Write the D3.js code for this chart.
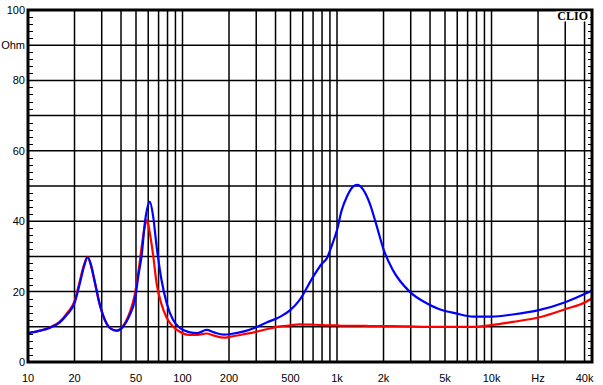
<!DOCTYPE html>
<html>
<head>
<meta charset="utf-8">
<script src="https://cdn.jsdelivr.net/npm/d3@7"></script>
<style>
  body { margin: 0; background: #fff; }
  svg { display: block; font-family: "Liberation Sans", Arial, sans-serif; }
</style>
</head>
<body>
<div id="chart"></div>
<script>
// frequency points (Hz), shared by both curves
const freq = [10, 12, 14, 16, 18, 20, 21.5, 23, 24.3, 25.5, 27, 29, 31.5, 34.5, 37.5, 41, 45.5, 49, 52, 54.5,
  57, 59, 61.5, 64.5, 68, 73, 79, 87, 96, 110, 125, 143, 160, 185, 205, 250, 300, 350, 430, 500,
  570, 700, 800, 860, 920, 1000, 1070, 1160, 1270, 1350, 1480, 1630, 1800, 2000, 2300, 2950, 3800, 4600, 5900, 7600,
  10000, 13700, 20500, 30000, 41000, 44700];

// impedance (Ohm), blue curve
const blueOhm = [8.2, 8.9, 9.8, 11.2, 13.6, 16.7, 21.8, 27, 29.7, 27.8, 23, 16.8, 11.9, 9.4, 8.9, 9.9, 13.3, 17.3, 25, 30.5,
  39.4, 43.5, 45.5, 41.5, 32.8, 23.5, 16.7, 11.9, 9.7, 8.5, 8.2, 9.1, 8.4, 7.8, 7.95, 8.7, 9.9, 11.2, 12.9, 14.8,
  17.5, 24.2, 28, 29.5, 32.8, 37.5, 43, 47, 49.8, 50.3, 48.9, 45, 38.9, 32, 26.1, 20, 16.7, 15, 13.8, 12.9,
  12.9, 13.5, 14.8, 17, 19.5, 20.3];

// impedance (Ohm), red curve
const redOhm = [8.2, 8.9, 9.9, 11.4, 14, 17.3, 22.5, 27.5, 29.9, 27.5, 22.8, 16.5, 11.8, 9.4, 8.9, 10.1, 14, 19, 26, 33,
  38.5, 40.3, 36.5, 30.5, 22.3, 16.5, 12.6, 10, 8.6, 7.7, 7.7, 8.1, 7.5, 6.9, 7.2, 7.9, 8.6, 9.3, 10.1, 10.4,
  10.7, 10.6, 10.5, 10.4, 10.4, 10.4, 10.3, 10.3, 10.3, 10.3, 10.3, 10.2, 10.2, 10.2, 10.2, 10.1, 10.0, 10.0, 10.0, 10.0,
  10.5, 11.4, 12.7, 15, 17.1, 18.1];

const freqGrid = [20, 30, 40, 50, 60, 70, 80, 90, 100, 200, 300, 400, 500, 600, 700, 800, 900, 1000,
  2000, 3000, 4000, 5000, 6000, 7000, 8000, 9000, 10000, 20000, 30000, 40000];
const freqLabels = [[10, "10"], [20, "20"], [50, "50"], [100, "100"], [200, "200"], [500, "500"],
  [1000, "1k"], [2000, "2k"], [5000, "5k"], [10000, "10k"], [20000, "Hz"], [40000, "40k"]];
const ohmLabels = [[0, "0"], [20, "20"], [40, "40"], [60, "60"], [80, "80"], [90, "Ohm"], [100, "100"]];

const W = 603, H = 385;
const plotL = 28, plotR = 592, plotT = 10, plotB = 362;

const svg = d3.select("#chart").append("svg").attr("width", W).attr("height", H);

const x = d3.scaleLog().domain([10, 44700]).range([plotL, plotR]);
const y = d3.scaleLinear().domain([0, 100]).range([plotB, plotT]);

// grid
svg.append("g")
  .selectAll("line")
  .data(freqGrid)
  .join("line")
  .attr("x1", d => x(d)).attr("x2", d => x(d))
  .attr("y1", plotT).attr("y2", plotB)
  .attr("stroke", "#000").attr("stroke-width", 1.5);

svg.append("g")
  .selectAll("line")
  .data(d3.range(10, 100, 10))
  .join("line")
  .attr("x1", plotL).attr("x2", plotR)
  .attr("y1", d => y(d)).attr("y2", d => y(d))
  .attr("stroke", "#000").attr("stroke-width", 1.5);

// minor ticks on left and right
const minor = d3.range(2, 100, 2).filter(d => d % 10 !== 0);
svg.append("g")
  .selectAll("line")
  .data(minor)
  .join("line")
  .attr("x1", plotL).attr("x2", plotL + 5)
  .attr("y1", d => Math.round(y(d)) + 0.5).attr("y2", d => Math.round(y(d)) + 0.5)
  .attr("stroke", "#000").attr("stroke-width", 1);
svg.append("g")
  .selectAll("line")
  .data(minor)
  .join("line")
  .attr("x1", plotR - 4).attr("x2", plotR)
  .attr("y1", d => Math.round(y(d)) + 0.5).attr("y2", d => Math.round(y(d)) + 0.5)
  .attr("stroke", "#000").attr("stroke-width", 1);

// curves
const line = d3.line()
  .x(d => x(d[0]))
  .y(d => y(d[1]))
  .curve(d3.curveMonotoneX);

svg.append("path")
  .datum(freq.map((f, i) => [f, redOhm[i]]))
  .attr("d", line)
  .attr("fill", "none")
  .attr("stroke", "#ff0000")
  .attr("stroke-width", 2.2);

svg.append("path")
  .datum(freq.map((f, i) => [f, blueOhm[i]]))
  .attr("d", line)
  .attr("fill", "none")
  .attr("stroke", "#0000ff")
  .attr("stroke-width", 2.2);

// frame
svg.append("rect")
  .attr("x", plotL).attr("y", plotT)
  .attr("width", plotR - plotL).attr("height", plotB - plotT)
  .attr("fill", "none").attr("stroke", "#000").attr("stroke-width", 3);

// CLIO badge
svg.append("rect")
  .attr("x", 556).attr("y", 11.5).attr("width", 34).attr("height", 10)
  .attr("fill", "#fff");
svg.append("text")
  .attr("x", 588).attr("y", 20)
  .attr("text-anchor", "end")
  .attr("font-family", "'Liberation Serif', 'Times New Roman', serif")
  .attr("font-weight", "bold")
  .attr("font-size", 12)
  .text("CLIO");

// labels
svg.append("g")
  .selectAll("text")
  .data(ohmLabels)
  .join("text")
  .attr("x", 25)
  .attr("y", d => y(d[0]) + 4)
  .attr("text-anchor", "end")
  .attr("font-size", 11)
  .attr("fill", "#000")
  .text(d => d[1]);

svg.append("g")
  .selectAll("text")
  .data(freqLabels)
  .join("text")
  .attr("x", d => x(d[0]))
  .attr("y", 382)
  .attr("text-anchor", "middle")
  .attr("font-size", 11)
  .attr("fill", "#000")
  .text(d => d[1]);
</script>
</body>
</html>
